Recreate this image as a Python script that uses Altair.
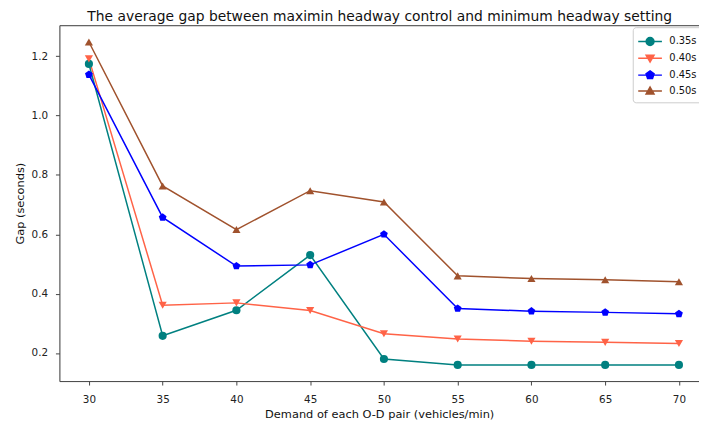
import altair as alt
import pandas as pd

demand = [30, 35, 40, 45, 50, 55, 60, 65, 70]
series_names = ["0.35s", "0.40s", "0.45s", "0.50s"]
gap_035 = [1.174, 0.258, 0.344, 0.530, 0.180, 0.160, 0.160, 0.160, 0.160]
gap_040 = [1.191, 0.361, 0.369, 0.343, 0.265, 0.247, 0.240, 0.236, 0.232]
gap_045 = [1.138, 0.657, 0.493, 0.497, 0.600, 0.350, 0.341, 0.337, 0.332]
gap_050 = [1.248, 0.763, 0.616, 0.747, 0.709, 0.460, 0.451, 0.447, 0.440]
colors = ["#008080", "#ff6347", "#0000ff", "#a0522d"]
x_ticks = [30, 35, 40, 45, 50, 55, 60, 65, 70]
y_ticks = [0.2, 0.4, 0.6, 0.8, 1.0, 1.2]
x_domain = [28, 71.36]
y_domain = [0.1055, 1.3045]
title_text = "The average gap between maximin headway control and minimum headway setting"

rows = []
for name, vals in zip(series_names, [gap_035, gap_040, gap_045, gap_050]):
    for d, g in zip(demand, vals):
        rows.append({"demand": d, "gap": g, "series": name})
df = pd.DataFrame(rows)

FONT = "DejaVu Sans"
pent = "M0,-1L0.951,-0.309L0.588,0.809L-0.588,0.809L-0.951,-0.309Z"
marker_shapes = ["circle", "triangle-down", pent, "triangle-up"]

line_seg = "M-1.41,0H1.41"
legend_shapes = [
    line_seg + "M0.47,0A0.47,0.47 0 1,1 -0.47,0A0.47,0.47 0 1,1 0.47,0Z",
    line_seg + "M-0.47,-0.36L0.47,-0.36L0,0.45Z",
    line_seg + "M0,-0.5L0.476,-0.155L0.294,0.405L-0.294,0.405L-0.476,-0.155Z",
    line_seg + "M0,-0.47L0.47,0.36L-0.47,0.36Z",
]

xscale = alt.Scale(domain=x_domain, nice=False, zero=False)
yscale = alt.Scale(domain=y_domain, nice=False, zero=False)
cscale = alt.Scale(domain=series_names, range=colors)

x_axis = alt.Axis(values=x_ticks, format="d", title="Demand of each O-D pair (vehicles/min)",
                  grid=False, tickSize=4, labelPadding=10, titlePadding=3,
                  labelFontSize=10.5, titleFontSize=11.5, titleFontWeight="normal",
                  labelFont=FONT, titleFont=FONT, labelColor="#222", titleColor="#111",
                  tickColor="#444", domainColor="#444")
top_axis = alt.Axis(orient="top", labels=False, ticks=False, grid=False, domainColor="#444",
                    title=title_text, titleFont=FONT, titleFontSize=14, titleFontWeight="normal",
                    titleColor="#111", titlePadding=2)
y_axis = alt.Axis(values=y_ticks, format=".1f", title="Gap (seconds)", grid=False,
                  tickSize=4, labelPadding=8, titlePadding=6,
                  labelFontSize=10.5, titleFontSize=11.5, titleFontWeight="normal",
                  labelFont=FONT, titleFont=FONT, labelColor="#222", titleColor="#111",
                  tickColor="#444", domainColor="#444")

base = alt.Chart(df)

lines = base.mark_line(strokeWidth=1.5).encode(
    x=alt.X("demand:Q", scale=xscale, axis=x_axis),
    y=alt.Y("gap:Q", scale=yscale, axis=y_axis),
    color=alt.Color("series:N", scale=cscale, legend=None),
    detail="series:N",
)

points = base.mark_point(filled=True, size=68, opacity=1).encode(
    x=alt.X("demand:Q", scale=xscale, axis=None),
    y=alt.Y("gap:Q", scale=yscale, axis=y_axis),
    color=alt.Color("series:N", scale=cscale, legend=None),
    shape=alt.Shape("series:N", scale=alt.Scale(domain=series_names, range=marker_shapes), legend=None),
)

top_frame = base.mark_point(opacity=0).encode(
    x=alt.X("demand:Q", scale=xscale, axis=top_axis),
    y=alt.Y("gap:Q", scale=yscale, axis=y_axis),
)

leg = alt.Legend(title=None, orient="none", legendX=580, legendY=2, padding=5,
                 strokeColor="#cccccc", fillColor="white", cornerRadius=3,
                 labelFontSize=10, labelFont=FONT, labelColor="#111",
                 symbolSize=289, symbolStrokeWidth=1.5, symbolOpacity=1, rowPadding=0,
                 labelOffset=10, symbolOffset=3)

legend_layer = base.transform_filter("false").mark_point(
    filled=True, strokeWidth=1.5, opacity=1).encode(
    fill=alt.Fill("series:N", scale=cscale, legend=leg),
    stroke=alt.Stroke("series:N", scale=cscale, legend=leg),
    shape=alt.Shape("series:N", scale=alt.Scale(domain=series_names, range=legend_shapes), legend=leg),
)

chart = alt.layer(lines, points, top_frame, legend_layer).resolve_scale(
    shape="independent", fill="independent", stroke="independent"
).resolve_axis(x="independent").properties(
    width=647, height=360,
    autosize=alt.AutoSizeParams(type="none"),
    padding={"left": 52, "top": 15, "right": 0, "bottom": 40},
).configure_view(stroke=None).configure(background="white")

chart.save("out.html", embed_options={"renderer": "svg", "actions": False})
